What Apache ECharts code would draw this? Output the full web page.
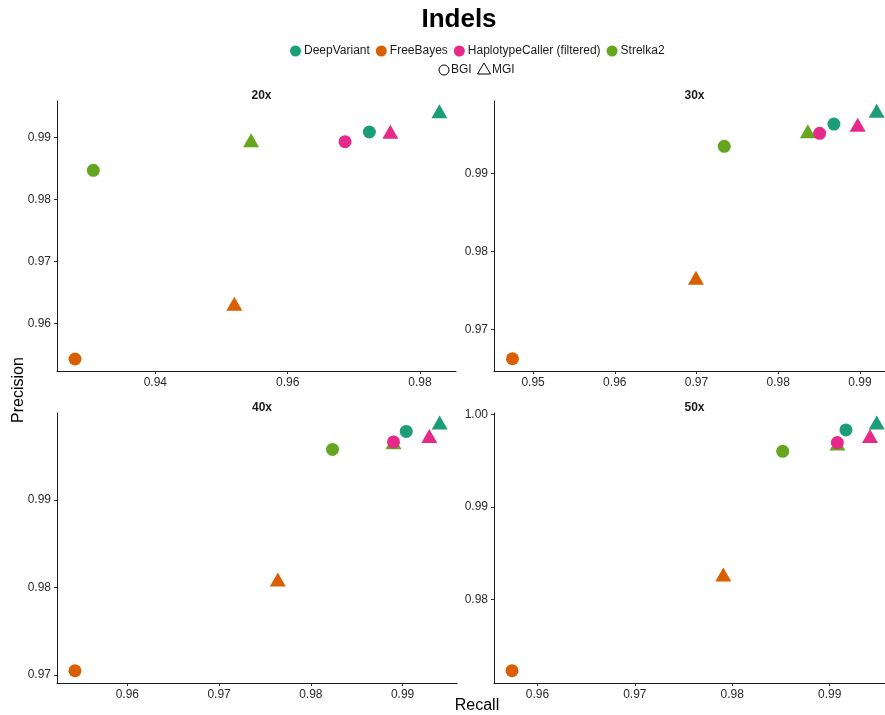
<!DOCTYPE html>
<html>
<head>
<meta charset="utf-8">
<title>Indels</title>
<script src="https://cdn.jsdelivr.net/npm/echarts@6/dist/echarts.min.js"></script>
<style>
  html, body { margin: 0; padding: 0; background: #fff; }
  #chart { width: 885px; height: 715px; }
</style>
</head>
<body>
<div id="chart"></div>
<script>
// Facets (sequencing depth)
const coverages = ['20x', '30x', '40x', '50x'];
// Variant callers, in legend order
const methods = ['DeepVariant', 'FreeBayes', 'HaplotypeCaller (filtered)', 'Strelka2'];
const platforms = ['BGI', 'MGI'];

// Recall / precision per caller, one value per coverage (20x, 30x, 40x, 50x)
const deepVariantBgiRecall     = [0.97235, 0.98681, 0.99040, 0.99167];
const deepVariantBgiPrecision  = [0.99092, 0.99630, 0.99784, 0.99832];
const deepVariantMgiRecall     = [0.98293, 0.99204, 0.99404, 0.99483];
const deepVariantMgiPrecision  = [0.99390, 0.99770, 0.99858, 0.99888];

const freeBayesBgiRecall       = [0.92786, 0.94748, 0.95429, 0.95739];
const freeBayesBgiPrecision    = [0.95429, 0.96629, 0.97049, 0.97229];
const freeBayesMgiRecall       = [0.95194, 0.96993, 0.97640, 0.97908];
const freeBayesMgiPrecision    = [0.96282, 0.97634, 0.98065, 0.98245];

const haplotypeBgiRecall       = [0.96867, 0.98506, 0.98901, 0.99078];
const haplotypeBgiPrecision    = [0.98935, 0.99512, 0.99663, 0.99695];
const haplotypeMgiRecall       = [0.97552, 0.98972, 0.99291, 0.99414];
const haplotypeMgiPrecision    = [0.99058, 0.99591, 0.99704, 0.99742];

const strelkaBgiRecall         = [0.93063, 0.97339, 0.98236, 0.98518];
const strelkaBgiPrecision      = [0.98474, 0.99345, 0.99578, 0.99601];
const strelkaMgiRecall         = [0.95447, 0.98362, 0.98901, 0.99080];
const strelkaMgiPrecision      = [0.98919, 0.99509, 0.99632, 0.99660];

// Tick labels per facet
const xTicks = [
  [0.94, 0.96, 0.98],
  [0.95, 0.96, 0.97, 0.98, 0.99],
  [0.96, 0.97, 0.98, 0.99],
  [0.96, 0.97, 0.98, 0.99]
];
const yTicks = [
  [0.96, 0.97, 0.98, 0.99],
  [0.97, 0.98, 0.99],
  [0.97, 0.98, 0.99],
  [0.98, 0.99, 1.00]
];

// Axis limits per facet (free scales)
const xLimits = [[0.92514, 0.98544], [0.94522, 0.99306], [0.95233, 0.99593], [0.95554, 0.99568]];
const yLimits = [[0.95235, 0.99592], [0.96472, 0.99925], [0.96909, 0.99994], [0.97096, 1.00015]];

const callerSeries = {
  'DeepVariant': {
    color: '#1B9E77',
    bgi: [deepVariantBgiRecall, deepVariantBgiPrecision],
    mgi: [deepVariantMgiRecall, deepVariantMgiPrecision]
  },
  'FreeBayes': {
    color: '#D95F02',
    bgi: [freeBayesBgiRecall, freeBayesBgiPrecision],
    mgi: [freeBayesMgiRecall, freeBayesMgiPrecision]
  },
  'HaplotypeCaller (filtered)': {
    color: '#E7298A',
    bgi: [haplotypeBgiRecall, haplotypeBgiPrecision],
    mgi: [haplotypeMgiRecall, haplotypeMgiPrecision]
  },
  'Strelka2': {
    color: '#66A61E',
    bgi: [strelkaBgiRecall, strelkaBgiPrecision],
    mgi: [strelkaMgiRecall, strelkaMgiPrecision]
  }
};

// Panel layout
const panelBoxes = [
  { left: 57,  top: 101, width: 399, height: 270 },
  { left: 494, top: 101, width: 391, height: 270 },
  { left: 57,  top: 413, width: 400, height: 270 },
  { left: 494, top: 413, width: 391, height: 270 }
];

const FONT = '"Liberation Sans", Arial, Helvetica, sans-serif';
const CIRCLE_SIZE = 13;
const TRI_W = 16, TRI_H = 14;

const grids = panelBoxes.map(b => Object.assign({ containLabel: false }, b));

const axisCommon = {
  axisLine: { show: true, onZero: false, lineStyle: { color: '#1a1a1a', width: 1 } },
  axisTick: { show: true, length: 3, lineStyle: { color: '#333', width: 1 } },
  splitLine: { show: false },
  axisLabel: { fontFamily: FONT, fontSize: 12, color: '#2b2b2b', margin: 6,
               formatter: v => Number(v).toFixed(2) }
};

const xAxes = coverages.map((c, i) => ({
  type: 'value', gridIndex: i, min: xLimits[i][0], max: xLimits[i][1],
  axisLine: axisCommon.axisLine,
  axisTick: Object.assign({ customValues: xTicks[i] }, axisCommon.axisTick),
  axisLabel: Object.assign({ customValues: xTicks[i] }, axisCommon.axisLabel),
  splitLine: axisCommon.splitLine
}));
const yAxes = coverages.map((c, i) => ({
  type: 'value', gridIndex: i, min: yLimits[i][0], max: yLimits[i][1],
  axisLine: axisCommon.axisLine,
  axisTick: Object.assign({ customValues: yTicks[i] }, axisCommon.axisTick),
  axisLabel: Object.assign({ customValues: yTicks[i] }, axisCommon.axisLabel),
  splitLine: axisCommon.splitLine
}));

// Draw order: HaplotypeCaller last so its points sit on top
const drawOrder = ['DeepVariant', 'FreeBayes', 'Strelka2', 'HaplotypeCaller (filtered)'];

const series = [];
coverages.forEach((c, i) => {
  drawOrder.forEach(name => {
    const s = callerSeries[name];
    series.push({
      type: 'scatter',
      name: name,
      xAxisIndex: i,
      yAxisIndex: i,
      itemStyle: { color: s.color, opacity: 1 },
      emphasis: { disabled: true },
      data: [
        { value: [s.bgi[0][i], s.bgi[1][i]], symbol: 'circle', symbolSize: CIRCLE_SIZE },
        // triangle is centred on its centroid, not its bounding box
        { value: [s.mgi[0][i], s.mgi[1][i]], symbol: 'triangle',
          symbolSize: [TRI_W, TRI_H], symbolOffset: [0, -TRI_H / 6] }
      ]
    });
  });
});

const titles = [
  { text: 'Indels', left: 454, top: 2, textAlign: 'center',
    textStyle: { fontFamily: FONT, fontSize: 26, fontWeight: 'bold', color: '#000' } }
].concat(coverages.map((c, i) => ({
  text: c,
  left: panelBoxes[i].left + panelBoxes[i].width / 2,
  top: panelBoxes[i].top - 16,
  textAlign: 'center',
  textStyle: { fontFamily: FONT, fontSize: 12, fontWeight: 'bold', color: '#1a1a1a' }
})));

// Shape key (BGI = open circle, MGI = open triangle)
const keyY = 70;
const shapeKey = [
  { type: 'circle', shape: { cx: 444, cy: keyY, r: 5 },
    style: { fill: 'none', stroke: '#000', lineWidth: 1 } },
  { type: 'text', x: 451, y: keyY,
    style: { text: platforms[0], fontFamily: FONT, fontSize: 12, fill: '#1a1a1a', verticalAlign: 'middle' } },
  { type: 'polygon', shape: { points: [[484, keyY - 7], [490.5, keyY + 4], [477.5, keyY + 4]] },
    style: { fill: 'none', stroke: '#000', lineWidth: 1 } },
  { type: 'text', x: 492, y: keyY,
    style: { text: platforms[1], fontFamily: FONT, fontSize: 12, fill: '#1a1a1a', verticalAlign: 'middle' } }
];

const option = {
  animation: false,
  backgroundColor: '#fff',
  title: titles,
  grid: grids,
  xAxis: xAxes,
  yAxis: yAxes,
  legend: [
    {
      data: methods.map(m => ({ name: m, icon: 'circle' })),
      left: 285, top: 40,
      itemWidth: 11, itemHeight: 11, itemGap: 6,
      selectedMode: false,
      textStyle: { fontFamily: FONT, fontSize: 12, color: '#1a1a1a', padding: [0, 0, 0, -2] }
    }
  ],
  graphic: shapeKey.concat([
    { type: 'text', x: 19, y: 390, rotation: Math.PI / 2,
      style: { text: 'Precision', fontFamily: FONT, fontSize: 16, fill: '#000',
               align: 'center', verticalAlign: 'middle' } },
    { type: 'text', x: 477, y: 706,
      style: { text: 'Recall', fontFamily: FONT, fontSize: 16, fill: '#000',
               align: 'center', verticalAlign: 'middle' } }
  ]),
  series: series
};

const chart = echarts.init(document.getElementById('chart'), null, { renderer: 'canvas' });
chart.setOption(option);
</script>
</body>
</html>
